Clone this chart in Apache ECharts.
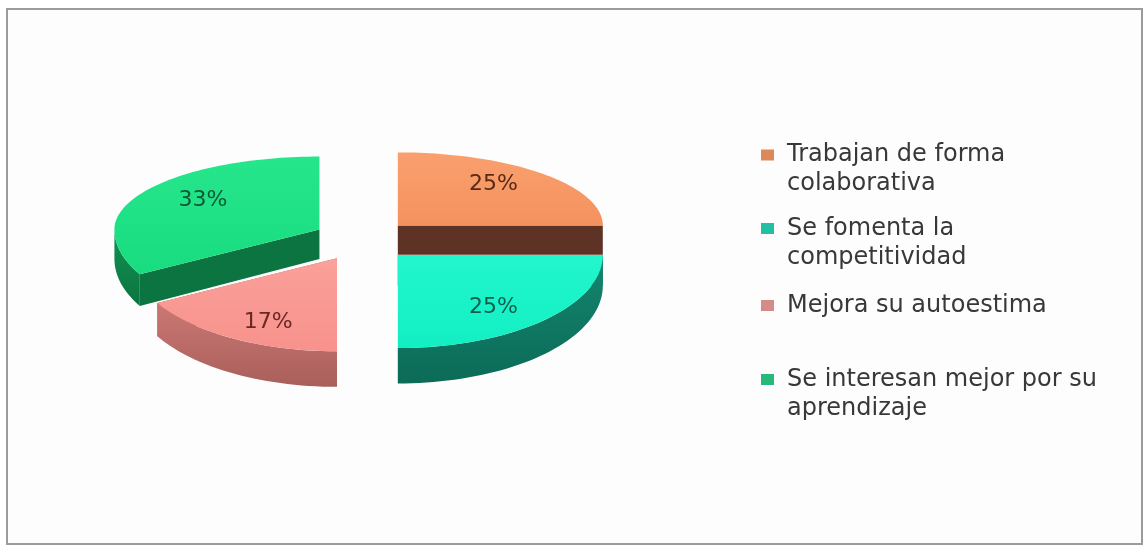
<!DOCTYPE html>
<html>
<head>
<meta charset="utf-8">
<script src="https://cdn.jsdelivr.net/npm/echarts@6/dist/echarts.min.js"></script>
<style>
  html, body { margin: 0; padding: 0; background: #fff; }
  #chart { width: 1147px; height: 546px; }
</style>
</head>
<body>
<div id="chart"></div>
<script>
// data
const categories = ['Trabajan de forma colaborativa', 'Se fomenta la competitividad', 'Mejora su autoestima', 'Se interesan mejor por su aprendizaje'];
const legendLines = [['Trabajan de forma', 'colaborativa'], ['Se fomenta la', 'competitividad'], ['Mejora su autoestima'], ['Se interesan mejor por su', 'aprendizaje']];
const values = [25, 25, 17, 33];

// styles
const topColors = [['#F9A06E', '#F4925E'], ['#22F6CD', '#12EFC2'], ['#FBA09A', '#F7928C'], ['#26E68C', '#18DC7F']];
const sideColors = [['#6A3B2A', '#5E3325'], ['#14866F', '#0B6B57'], ['#CC7874', '#A85F5B'], ['#129253', '#0B7440']];
const labelColors = ['#5A2914', '#0C5E4E', '#6A2824', '#0B5A36'];
const markerColors = ['#DE8858', '#22BFA0', '#D48C88', '#27B97A'];
const legendTops = [111.5, 185, 291, 336];

const total = values.reduce((a, b) => a + b, 0);
const angles = [];
let acc = 0;
values.forEach(v => { angles.push([acc / total * 360, (acc + v) / total * 360]); acc += v; });

function grad(c) {
  return new echarts.graphic.LinearGradient(0, 0, 0, 1, [{offset: 0, color: c[0]}, {offset: 1, color: c[1]}]);
}

function sliceRenderer(idx) {
  return function (params, api) {
    const W = api.getWidth(), H = api.getHeight();
    const cx = W * 0.316, cy = H * 0.44;
    const rx = 205, ryBack = 73, ryFront = 93;
    const a0 = angles[idx][0], a1 = angles[idx][1];
    const mid = (a0 + a1) / 2 * Math.PI / 180;
    const ax = cx + 50 * Math.sin(mid), ay = cy - 21 * Math.cos(mid);
    const rim = t => {
      const r = t * Math.PI / 180, c = Math.cos(r);
      return [ax + rx * Math.sin(r), ay - (c > 0 ? ryBack : ryFront) * c];
    };
    const down = p => [p[0], p[1] + 30 + 0.05 * (p[1] - cy)];
    const apex = [ax, ay];
    const children = [];

    // radial cut faces
    [a0, a1].forEach(t => {
      const p = rim(t);
      children.push({type: 'polygon', shape: {points: [apex, p, down(p), down(apex)]},
        style: {fill: sideColors[idx][1]}});
    });

    // outer wall, front half only
    const w0 = Math.max(a0, 90), w1 = Math.min(a1, 270);
    if (w1 > w0) {
      const topPts = [], botPts = [];
      for (let t = w0; t < w1; t += 2) { topPts.push(rim(t)); }
      topPts.push(rim(w1));
      topPts.forEach(p => botPts.unshift(down(p)));
      children.push({type: 'polygon', shape: {points: topPts.concat(botPts)},
        style: {fill: grad(sideColors[idx])}});
    }

    // top face
    const face = [apex];
    for (let t = a0; t < a1; t += 1.5) { face.push(rim(t)); }
    face.push(rim(a1));
    children.push({type: 'polygon', shape: {points: face}, style: {fill: grad(topColors[idx])}});

    // percent label
    const ry = Math.cos(mid) > 0 ? ryBack : ryFront;
    children.push({type: 'text', x: ax + 0.66 * rx * Math.sin(mid), y: ay - 0.8 * ry * Math.cos(mid),
      style: {text: values[idx] + '%', fill: labelColors[idx], font: '22px "DejaVu Sans"',
        align: 'center', verticalAlign: 'middle'}});

    return {type: 'group', children: children};
  };
}

const chart = echarts.init(document.getElementById('chart'));
const option = {
  backgroundColor: '#ffffff',
  animation: false,
  graphic: [{
    type: 'rect', z: 0,
    shape: {x: 7, y: 9, width: 1135, height: 535},
    style: {fill: '#fdfdfd', stroke: '#9b9b9b', lineWidth: 2}
  }],
  legend: categories.map((name, i) => ({
    data: [{name: name, itemStyle: {color: markerColors[i]}}],
    orient: 'vertical',
    left: 761,
    top: legendTops[i],
    padding: 0,
    icon: 'rect',
    itemWidth: 13,
    itemHeight: 11,
    selectedMode: false,
    // empty first line keeps the marker level with the first text line
    formatter: () => (legendLines[i].length > 1 ? '\n' : '') + legendLines[i].join('\n'),
    textStyle: {
      fontFamily: 'DejaVu Sans', fontSize: 24, lineHeight: 29, color: '#383838',
      padding: [0, 0, 0, 8]
    }
  })),
  series: categories.map((name, i) => ({
    type: 'custom',
    name: name,
    coordinateSystem: 'none',
    z: (i === 1 || i === 2) ? 4 : 3,
    itemStyle: {color: markerColors[i]},
    renderItem: sliceRenderer(i),
    data: [values[i]]
  }))
};
chart.setOption(option);
</script>
</body>
</html>
